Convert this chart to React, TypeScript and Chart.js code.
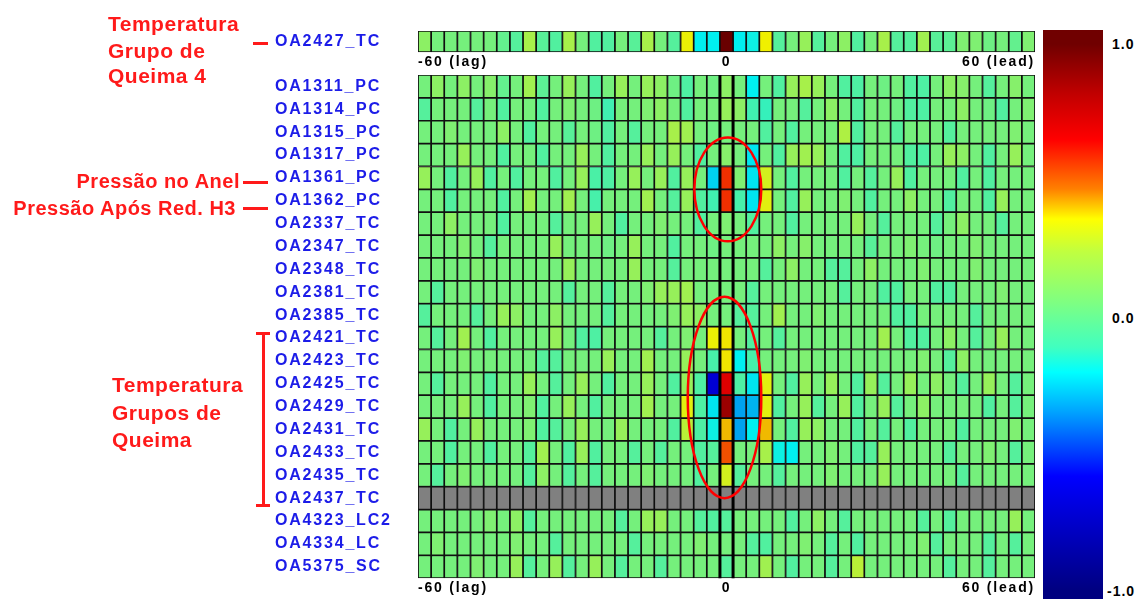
import React, { useEffect, useRef } from 'react';
import { Chart, registerables } from 'chart.js';

Chart.register(...registerables);

// ---------------- DATA ----------------
const topRowNames = ['OA2427_TC'];
const rowNames = [
  'OA1311_PC', 'OA1314_PC', 'OA1315_PC', 'OA1317_PC', 'OA1361_PC', 'OA1362_PC',
  'OA2337_TC', 'OA2347_TC', 'OA2348_TC', 'OA2381_TC', 'OA2385_TC', 'OA2421_TC',
  'OA2423_TC', 'OA2425_TC', 'OA2429_TC', 'OA2431_TC', 'OA2433_TC', 'OA2435_TC',
  'OA2437_TC', 'OA4323_LC2', 'OA4334_LC', 'OA5375_SC',
];
const xTickLabels = ['-60 (lag)', '0', '60 (lead)'];
const colorbarTickLabels = ['1.0', '0.0', '-1.0'];
const colorbarTickValues = [1, 0, -1];

// correlation per lag column (23 lags, lag 0, 23 leads)
const oa2427 = [.12,.05,.05,.05,.05,.05,.0,-.04,.2,-.03,-.05,.2,.05,-.05,-.05,.05,-.03,.2,.05,-.04,.35,-.2,-.2, 1.0, -.2,-.18,.36,-.04,.05,.15,-.04,.05,.12,-.05,.05,.2,-.04,-.04,.18,-.03,-.02,.08,.08,.03,.05,.0,.08];

const oa1311 = [.05,.12,.05,.12,.05,.1,.0,.05,.18,-.02,.05,.15,.05,-.05,.05,.15,.05,.15,.12,.03,-.06,.05,.03, .12, .05,-.2,.05,-.05,.15,.2,.15,.05,-.05,-.06,.05,.03,.05,-.05,-.06,.05,.12,.1,.05,-.04,.05,.1,.05];
const oa1314 = [-.04,.05,.05,.05,-.04,.05,-.05,.05,.05,-.05,.05,.08,.05,.03,-.1,.05,.05,.08,.12,.05,-.05,.05,.05, .15, .12,-.1,-.12,.05,.05,-.04,.05,.12,.05,-.05,.05,.05,.03,-.05,-.06,.05,.05,.12,.05,.03,-.05,.05,.08];
const oa1315 = [.05,.05,.08,.05,.05,.05,.12,.05,-.05,.05,.05,-.03,.05,.03,-.05,.05,-.04,.05,.05,.2,.18,.05,.03, .05, .05,.05,-.05,.05,-.05,.05,.05,.05,.22,-.05,.05,.05,-.04,.05,.05,.05,-.04,.05,.05,.05,.05,.08,.05];
const oa1317 = [.05,.05,.05,.15,.05,.05,-.05,.05,.05,-.05,.05,.05,.15,.05,-.05,.05,.05,.15,.05,.15,.05,-.05,.05, .1, .05,-.22,.05,-.05,.15,.18,.15,.05,-.05,-.06,.05,.05,.05,-.05,-.06,.05,.15,.12,.05,-.05,.05,.15,.05];
const oa1361 = [.15,.05,-.05,.05,.15,-.05,.05,-.05,.05,.05,-.05,.05,.15,-.07,-.06,.05,.15,.05,.15,-.05,.15,.05,-.25, .58, .08,-.22,.3,.05,-.05,.05,.05,.05,-.05,.05,-.04,.05,.15,-.05,.05,.05,.05,-.05,.05,-.05,.05,.05,.05];
const oa1362 = [.05,.05,-.05,.05,.05,.05,-.05,.05,.18,.05,.05,.18,.05,-.08,.05,.05,.05,.18,.05,-.04,.15,-.05,-.1, .58, -.08,-.22,.33,.05,-.05,.15,.05,.05,.08,.05,-.05,.05,.05,.12,.05,.05,-.05,.05,.05,-.05,.15,.05,.05];
const oa2337 = [.05,.05,.12,.05,.05,.05,-.05,.05,.05,.05,-.04,.05,.05,.15,.05,-.05,.05,.05,.08,.05,.05,-.05,.05, .08, .05,-.05,.05,.05,-.05,.05,.05,.05,.05,.15,.05,-.04,.05,.05,.05,-.04,.05,.12,.05,.05,-.04,.05,.05];
const oa2347 = [.05,.05,.05,.08,.05,-.04,.05,.05,.05,.05,.15,.05,.05,.05,.03,.05,.15,.05,.05,-.05,.05,.05,.03, .05, .05,.05,.05,.12,.05,.1,.05,.05,.05,.05,-.03,.05,.05,.08,.05,.03,.05,.05,.08,.05,.05,.05,.05];
const oa2348 = [.05,.05,.05,.05,.08,.05,.05,.05,.05,.05,.05,.15,.05,.05,.05,.05,.15,.05,.05,-.04,.05,.05,.05, .05, .05,.05,-.04,.05,.12,.05,.05,-.04,-.04,.05,.12,.05,.05,.05,.08,.05,.05,.05,.08,.05,.05,.05,.05];
const oa2381 = [.05,-.04,.05,.05,.05,.05,.05,.05,.05,.05,.05,-.04,.05,.05,-.04,.05,.05,.08,.15,.15,.18,.05,.05, .05, .05,-.04,.05,.05,.05,.05,.05,.05,-.04,.05,.05,-.05,-.05,.05,.05,-.05,-.05,.05,.05,.05,.08,.05,.05];
const oa2385 = [-.04,.05,.05,.05,-.04,.05,.15,.12,.05,.05,.12,.05,.05,.05,-.04,.05,.05,.05,.05,.08,.15,.12,.05, .05, -.04,-.04,.05,.18,.05,.05,.08,.05,.05,.05,.05,.05,-.05,-.05,.05,.05,.05,.05,-.04,.05,.05,.05,.05];
const oa2421 = [.05,-.04,.05,.18,.05,-.05,.05,.05,.05,.05,.15,.05,-.05,-.06,.05,.05,.05,.05,-.04,.05,.08,.05,.35, .37, .05,-.05,.05,-.04,.05,.05,.05,.05,.05,.05,.05,.18,.05,-.05,-.05,.05,.12,.05,-.04,.05,.15,.05,.05];
const oa2423 = [.05,.05,.05,.08,.05,.05,.05,.05,.05,-.04,-.04,.05,.05,.05,.15,.05,.05,.18,.05,.05,.15,.05,-.08, .37, -.2,-.08,.05,.05,.05,.08,.05,.05,.05,.05,.05,.05,.05,.05,.08,.05,-.04,.12,.05,.05,.05,.05,.05];
const oa2425 = [.05,-.04,.05,.05,.05,-.05,.05,.05,.15,.05,-.04,.05,.15,.05,-.05,.05,.05,.15,.05,-.05,.15,-.06,-.68, .7, -.06,-.22,.33,.05,-.05,.15,.05,.15,.05,-.05,.15,-.04,.05,.15,.05,.12,.05,-.04,.05,.15,.05,-.04,.05];
const oa2429 = [.05,.05,.05,.15,.05,-.05,.05,.05,.08,-.05,.05,.15,.05,-.05,.05,.05,.05,.18,.05,.05,.33,-.06,-.22, .88, -.33,-.3,.33,-.05,.05,.15,-.04,.05,.15,-.05,.05,.15,-.04,.05,.12,.05,.05,.05,.05,-.05,.05,-.04,.05];
const oa2431 = [.15,.05,-.05,.05,.15,.05,.05,.05,.08,-.05,-.04,.05,.15,.05,.05,.15,.05,.05,.05,-.05,.25,-.06,-.18, .41, -.33,-.2,.41,.05,-.05,.15,.12,.05,.05,-.05,.05,-.04,.05,-.05,.05,.05,.05,-.05,.05,.05,.05,.08,.05];
const oa2433 = [.05,.05,-.05,.05,.05,-.05,.05,.05,-.04,.18,.05,-.05,.15,-.05,.05,.05,-.04,.05,-.04,.05,.05,-.05,-.04, .53, .05,.05,.2,-.18,-.2,.05,.05,.08,.05,-.05,-.04,.15,.05,.05,.05,.05,-.04,.05,.05,.08,.05,-.04,.05];
const oa2435 = [.05,-.04,.05,.08,.05,.05,.05,.05,-.04,.12,.05,-.04,.05,-.04,.05,.05,.05,.08,.05,.05,.05,-.05,.05, .3, -.04,.05,.05,-.04,.05,.05,.05,.08,.05,.05,.05,.15,.05,.05,.05,.05,.05,-.04,.05,.05,.05,.05,.05];
const _ = null;
const oa2437 = [_,_,_,_,_,_,_,_,_,_, _,_,_,_,_,_,_,_,_,_, _,_,_,_,_,_,_,_,_,_, _,_,_,_,_,_,_,_,_,_, _,_,_,_,_,_,_];
const oa4323 = [.05,.05,.05,.05,.05,.08,.05,.12,-.04,.05,.05,.05,.05,.05,.05,-.04,.05,.15,.15,.05,.05,-.04,-.05, -.04, .05,.05,.05,.05,-.05,.05,.12,.05,-.04,.05,.05,.05,.05,.05,-.04,.05,-.04,.05,.05,.05,.05,.15,.05];
const oa4334 = [.05,.08,.05,.05,.05,.05,.05,.08,.05,.05,-.04,.05,.05,.05,.05,.05,-.04,.05,.05,.05,.05,.08,.05, .05, .05,-.04,-.05,.05,.05,.08,.05,-.04,.05,-.05,.05,.05,.05,.05,.08,-.04,.05,.05,.05,-.04,.05,-.04,.05];
const oa5375 = [.05,.05,.05,.05,.08,.05,.05,.15,-.04,.05,.15,-.04,.05,.15,.05,-.04,.05,.05,-.04,.05,.05,.05,.05, -.04, .05,.05,.18,.05,-.05,.05,.05,-.04,.05,.25,.05,.05,.05,.05,.05,.05,-.04,.05,.05,-.04,.05,.05,.05];

const topMatrix = [oa2427];
const mainMatrix = [
  oa1311, oa1314, oa1315, oa1317, oa1361, oa1362, oa2337, oa2347, oa2348, oa2381, oa2385,
  oa2421, oa2423, oa2425, oa2429, oa2431, oa2433, oa2435, oa2437, oa4323, oa4334, oa5375,
];

// colour scale (value -> colour)
const colorStops = [1.0, 0.82, 0.65, 0.47, 0.36, 0.24, 0.06, -0.11, -0.2, -0.35, -0.58, -1.0];
const colorHexes = ['#700000', '#c00000', '#ff0000', '#ff8000', '#ffff00', '#c0ff40', '#80ff80', '#40ffc0', '#00ffff', '#00a0ff', '#0000ff', '#000080'];
const missingColor = '#808080';
const CELL_SHADE = 0.94;

// red ring annotations (in lag-column / row units)
const rings = [
  { lag: 0.1, row: 4.5, halfCols: 2.55, halfRows: 2.27 },
  { lag: -0.15, row: 13.6, halfCols: 2.8, halfRows: 4.4 },
];

// ---------------- LAYOUT ----------------
const GRID_LEFT = 418;
const GRID_RIGHT = 1035;
const LABEL_LEFT = 275;
const CANVAS_W = 1040;
const FAMILY = '"Liberation Sans", Arial, sans-serif';
const LABEL_FONT = { family: FAMILY, size: 16, weight: 'bold' };
const TICK_FONT = { family: FAMILY, size: 14, weight: 'bold' };
const BLUE = '#1c1ce8';
const RED = '#ff1a1a';

function hexToRgb(h: string) {
  return [parseInt(h.slice(1, 3), 16), parseInt(h.slice(3, 5), 16), parseInt(h.slice(5, 7), 16)];
}

function cellColor(v: number | null): string {
  if (v === null || v === undefined) return missingColor;
  const c = Math.max(-1, Math.min(1, v));
  for (let i = 0; i < colorStops.length - 1; i++) {
    const hi = colorStops[i];
    const lo = colorStops[i + 1];
    if (c <= hi && c >= lo) {
      const t = (hi - c) / (hi - lo);
      const a = hexToRgb(colorHexes[i]);
      const b = hexToRgb(colorHexes[i + 1]);
      const m = a.map((av, k) => Math.round((av + (b[k] - av) * t) * CELL_SHADE));
      return `rgb(${m[0]},${m[1]},${m[2]})`;
    }
  }
  return missingColor;
}

function measureWidest(labels: string[], font: any) {
  const ctx = document.createElement('canvas').getContext('2d') as CanvasRenderingContext2D;
  ctx.font = `${font.weight} ${font.size}px ${font.family}`;
  return Math.max(...labels.map((l) => ctx.measureText(l).width));
}

const spacingPlugin = {
  id: 'letterSpacing',
  beforeDraw(chart: any) {
    (chart.ctx as any).letterSpacing = '1.8px';
  },
};

const centerLinesPlugin = {
  id: 'centerLines',
  afterDatasetsDraw(chart: any) {
    const { ctx, chartArea, scales } = chart;
    ctx.save();
    ctx.strokeStyle = '#000';
    ctx.lineWidth = 3;
    [-0.5, 0.5].forEach((v) => {
      const px = scales.x.getPixelForValue(v);
      ctx.beginPath();
      ctx.moveTo(px, chartArea.top);
      ctx.lineTo(px, chartArea.bottom);
      ctx.stroke();
    });
    ctx.restore();
  },
};

const ringsPlugin = {
  id: 'rings',
  afterDatasetsDraw(chart: any) {
    const { ctx, scales } = chart;
    const { x, y } = scales;
    const colW = x.getPixelForValue(1) - x.getPixelForValue(0);
    const rowH = y.getPixelForValue(1) - y.getPixelForValue(0);
    ctx.save();
    ctx.strokeStyle = '#ff0000';
    ctx.lineWidth = 2.5;
    rings.forEach((r) => {
      ctx.beginPath();
      ctx.ellipse(x.getPixelForValue(r.lag), y.getPixelForValue(r.row), r.halfCols * colW, r.halfRows * rowH, 0, 0, Math.PI * 2);
      ctx.stroke();
    });
    ctx.restore();
  },
};

function buildHeatmap(canvas: HTMLCanvasElement, labels: string[], matrix: (number | null)[][], extra: any[], topPad: number) {
  const widest = measureWidest(labels, LABEL_FONT);
  const ncols = matrix[0].length;
  const mid = (ncols - 1) / 2;
  const datasets: any[] = [];
  for (let c = 0; c < ncols; c++) {
    datasets.push({
      data: labels.map(() => [c - mid - 0.5, c - mid + 0.5]),
      backgroundColor: matrix.map((row) => cellColor(row[c])),
      borderColor: '#101010',
      borderWidth: 1.2,
      borderSkipped: false,
      grouped: false,
      categoryPercentage: 1,
      barPercentage: 1,
    });
  }
  const tickValues = [-mid - 0.5, 0, mid + 0.5];
  return new Chart(canvas, {
    type: 'bar',
    data: { labels, datasets },
    options: {
      indexAxis: 'y',
      responsive: false,
      animation: false,
      devicePixelRatio: 1,
      events: [],
      layout: { padding: { left: LABEL_LEFT, right: CANVAS_W - GRID_RIGHT, top: topPad, bottom: 0 } },
      plugins: { legend: { display: false }, tooltip: { enabled: false }, title: { display: false } },
      scales: {
        x: {
          type: 'linear',
          min: -mid - 0.5,
          max: mid + 0.5,
          grid: { display: false, drawTicks: false },
          border: { display: false },
          afterBuildTicks: (s: any) => {
            s.ticks = tickValues.map((v) => ({ value: v }));
          },
          afterFit: (s: any) => {
            s.paddingLeft = 0;
            s.paddingRight = 0;
          },
          ticks: {
            autoSkip: false,
            maxRotation: 0,
            minRotation: 0,
            align: 'inner',
            padding: 2,
            color: '#000',
            font: TICK_FONT,
            callback: (_v: any, i: number) => xTickLabels[i],
          },
        },
        y: {
          type: 'category',
          offset: true,
          grid: { display: false, drawTicks: false },
          border: { display: false },
          afterFit: (s: any) => {
            s.width = GRID_LEFT - LABEL_LEFT;
            s.paddingTop = 0;
            s.paddingBottom = 0;
          },
          ticks: {
            autoSkip: false,
            crossAlign: 'far',
            padding: GRID_LEFT - LABEL_LEFT - widest,
            color: BLUE,
            font: LABEL_FONT,
          },
        },
      },
    } as any,
    plugins: [spacingPlugin, ...extra],
  });
}

// ---------------- ANNOTATIONS ----------------
const redTexts = [
  { text: 'Temperatura', left: 108, y: 24, size: 21 },
  { text: 'Grupo de', left: 108, y: 51, size: 21 },
  { text: 'Queima 4', left: 108, y: 76, size: 21 },
  { text: 'Pressão no Anel', right: 240, y: 181, size: 20 },
  { text: 'Pressão Após Red. H3', right: 236, y: 208, size: 20 },
  { text: 'Temperatura', left: 112, y: 385, size: 21 },
  { text: 'Grupos de', left: 112, y: 413, size: 21 },
  { text: 'Queima', left: 112, y: 440, size: 21 },
];
const redLines = [
  { x: 253, y: 42, w: 15, h: 3 },
  { x: 243, y: 181, w: 25, h: 3 },
  { x: 243, y: 207, w: 25, h: 3 },
  { x: 262, y: 332, w: 3, h: 175 },
  { x: 256, y: 332, w: 14, h: 3 },
  { x: 256, y: 504, w: 14, h: 3 },
];

const CB_LEFT = 1043;
const CB_WIDTH = 60;
const CB_TOP = 30;
const CB_BOTTOM = 599;
const CB_Y1 = 44;
const CB_YM1 = 591;

function cbY(v: number) {
  return (CB_Y1 + CB_YM1) / 2 - v * (CB_YM1 - CB_Y1) / 2;
}

export default function App() {
  const topRef = useRef<HTMLCanvasElement>(null);
  const mainRef = useRef<HTMLCanvasElement>(null);

  useEffect(() => {
    const top = buildHeatmap(topRef.current as HTMLCanvasElement, topRowNames, topMatrix, [], 11);
    const main = buildHeatmap(mainRef.current as HTMLCanvasElement, rowNames, mainMatrix, [centerLinesPlugin, ringsPlugin], 15);
    return () => {
      top.destroy();
      main.destroy();
    };
  }, []);

  const gradient = `linear-gradient(to bottom, ${colorStops
    .map((v, i) => `${colorHexes[i]} ${(((cbY(v) - CB_TOP) / (CB_BOTTOM - CB_TOP)) * 100).toFixed(2)}%`)
    .join(', ')})`;

  const redFont: React.CSSProperties = {
    position: 'absolute',
    fontFamily: FAMILY,
    fontWeight: 'bold',
    lineHeight: '24px',
    letterSpacing: '0.5px',
    color: RED,
    whiteSpace: 'nowrap',
  };

  return (
    <div style={{ position: 'absolute', left: 0, top: 0, width: 1147, height: 599, overflow: 'hidden', background: '#fff' }}>
      <canvas ref={topRef} width={CANVAS_W} height={53} style={{ position: 'absolute', left: 0, top: 20, width: CANVAS_W, height: 53 }} />
      <canvas ref={mainRef} width={CANVAS_W} height={539} style={{ position: 'absolute', left: 0, top: 60, width: CANVAS_W, height: 539 }} />
      <div style={{ position: 'absolute', left: CB_LEFT, top: CB_TOP, width: CB_WIDTH, height: CB_BOTTOM - CB_TOP, background: gradient }} />
      {colorbarTickLabels.map((t, i) => (
        <div
          key={t}
          style={{
            position: 'absolute',
            left: 1112 - (t.startsWith('-') ? 5 : 0),
            top: cbY(colorbarTickValues[i]) - 9,
            fontFamily: FAMILY,
            fontWeight: 'bold',
            fontSize: 14,
            lineHeight: '18px',
            letterSpacing: '1px',
            color: '#000',
          }}
        >
          {t}
        </div>
      ))}
      {redTexts.map((t, i) => (
        <div
          key={i}
          style={{
            ...redFont,
            fontSize: t.size,
            top: t.y - 12,
            ...(t.left !== undefined ? { left: t.left } : { right: 1147 - (t.right as number), textAlign: 'right' }),
          }}
        >
          {t.text}
        </div>
      ))}
      {redLines.map((l, i) => (
        <div key={'l' + i} style={{ position: 'absolute', left: l.x, top: l.y, width: l.w, height: l.h, background: RED }} />
      ))}
    </div>
  );
}
